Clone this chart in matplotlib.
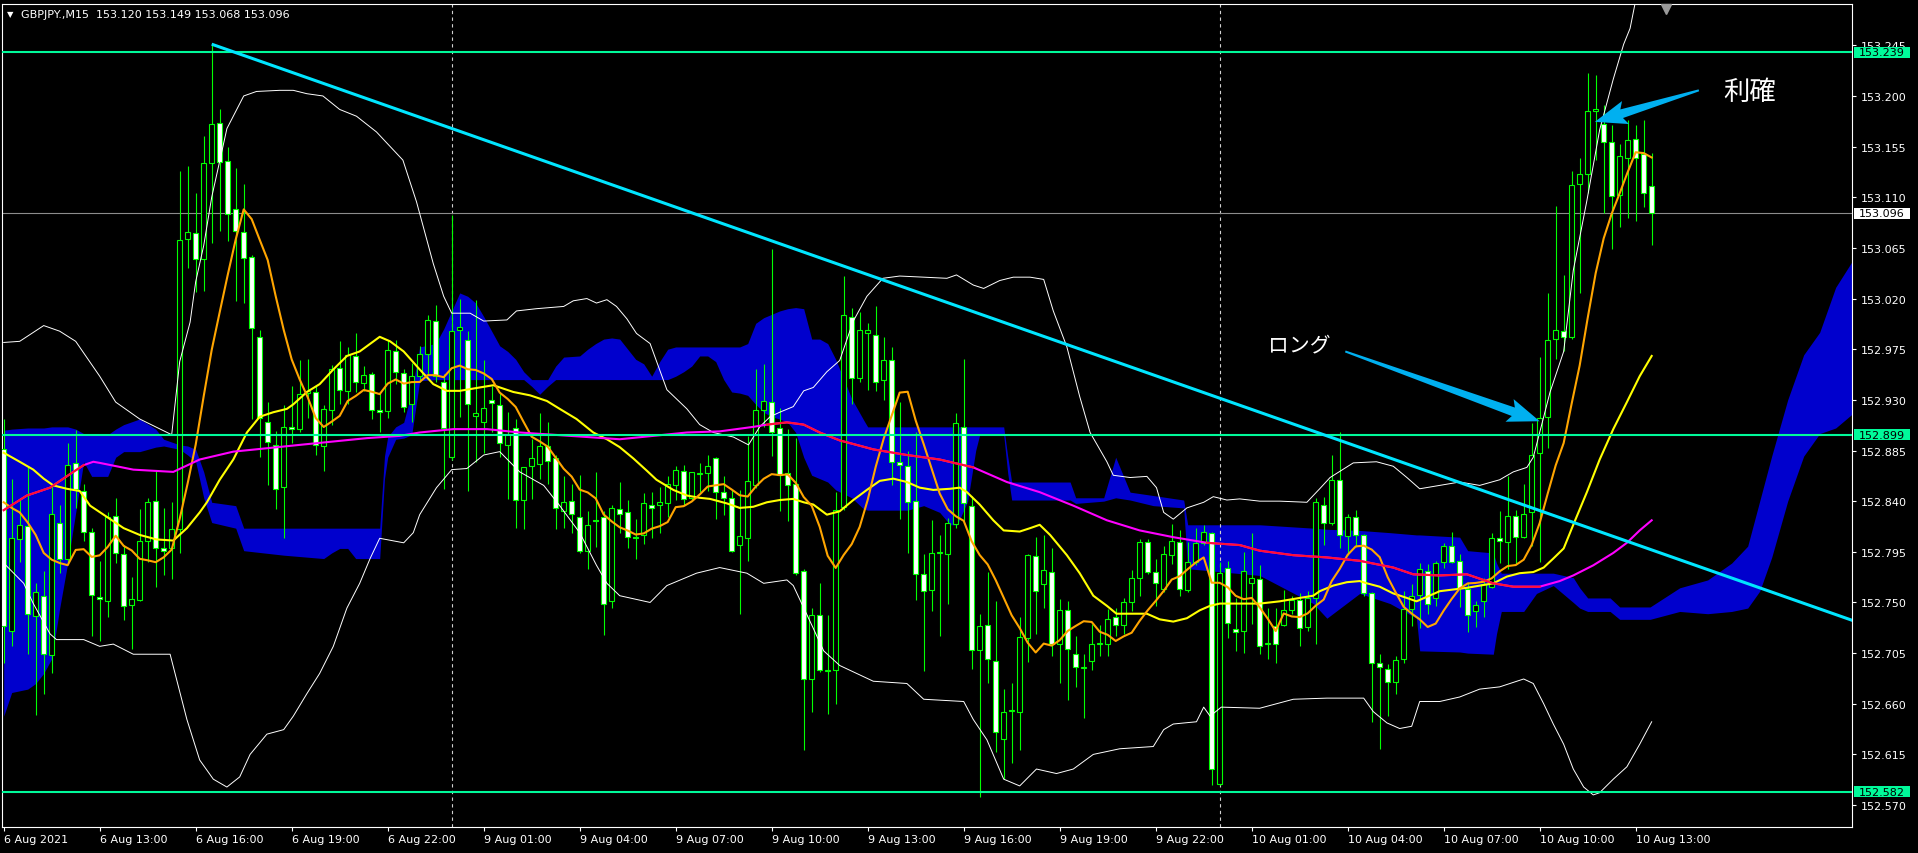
import numpy as np
import pandas as pd
import matplotlib
matplotlib.use('Agg')
import matplotlib.pyplot as plt
from matplotlib.patches import Polygon, Rectangle
from matplotlib.transforms import blended_transform_factory, IdentityTransform

plt.rcParams['font.family'] = ['DejaVu Sans', 'Noto Sans CJK JP']

# ---- GBPJPY M15 candles (bar 0 = 6 Aug 10:00) ----
opens = [152.886, 152.725, 152.806, 152.818, 152.738, 152.756, 152.703, 152.821, 152.789, 152.874,
         152.849, 152.813, 152.755, 152.751, 152.827, 152.793, 152.748, 152.752, 152.805, 152.840,
         152.798, 152.798, 152.815, 153.073, 153.078, 153.055, 153.140, 153.176, 153.142, 153.100,
         153.079, 153.057, 152.986, 152.910, 152.890, 152.853, 152.906, 152.904, 152.936, 152.937,
         152.889, 152.921, 152.958, 152.938, 152.969, 152.945, 152.953, 152.921, 152.920, 152.973,
         152.954, 152.926, 152.951, 152.971, 153.000, 152.946, 152.879, 152.992, 152.983, 152.916,
         152.910, 152.930, 152.925, 152.890, 152.905, 152.841, 152.871, 152.873, 152.889, 152.878,
         152.831, 152.840, 152.826, 152.796, 152.823, 152.826, 152.751, 152.833, 152.830, 152.808,
         152.810, 152.837, 152.837, 152.838, 152.854, 152.867, 152.843, 152.864, 152.865, 152.878,
         152.848, 152.843, 152.801, 152.807, 152.854, 152.921, 152.928, 152.905, 152.865, 152.855,
         152.778, 152.682, 152.739, 152.689, 152.690, 152.835, 153.004, 152.949, 152.989, 152.988,
         152.948, 152.965, 152.875, 152.871, 152.840, 152.775, 152.761, 152.794, 152.793, 152.820,
         152.906, 152.836, 152.708, 152.730, 152.698, 152.629, 152.654, 152.653, 152.718, 152.791,
         152.766, 152.777, 152.713, 152.743, 152.704, 152.692, 152.698, 152.713, 152.713, 152.737,
         152.730, 152.750, 152.772, 152.804, 152.777, 152.762, 152.792, 152.804, 152.761, 152.786,
         152.803, 152.812, 152.589, 152.781, 152.726, 152.725, 152.767, 152.771, 152.713, 152.729,
         152.730, 152.743, 152.752, 152.728, 152.754, 152.837, 152.821, 152.859, 152.809, 152.826,
         152.810, 152.758, 152.696, 152.691, 152.679, 152.700, 152.744, 152.757, 152.778, 152.754,
         152.786, 152.800, 152.787, 152.762, 152.742, 152.751, 152.764, 152.807, 152.804, 152.827,
         152.808, 152.830, 152.883, 152.915, 152.984, 152.991, 152.986, 153.122, 153.131, 153.187,
         153.175, 153.159, 153.112, 153.145, 153.162, 153.148, 153.120]
highs = [152.913, 152.860, 152.843, 152.870, 152.767, 152.778, 152.854, 152.837, 152.892, 152.903,
         152.855, 152.816, 152.787, 152.830, 152.843, 152.801, 152.773, 152.833, 152.843, 152.867,
         152.834, 152.839, 153.133, 153.138, 153.114, 153.164, 153.246, 153.188, 153.155, 153.136,
         153.122, 153.059, 152.992, 152.928, 152.902, 152.925, 152.942, 152.965, 152.966, 152.942,
         152.925, 152.961, 152.982, 152.977, 152.989, 152.960, 152.955, 152.937, 152.983, 152.983,
         152.957, 152.963, 152.978, 153.005, 153.014, 152.953, 153.094, 153.020, 152.991, 153.019,
         152.965, 152.942, 152.937, 152.919, 152.913, 152.870, 152.895, 152.918, 152.910, 152.881,
         152.862, 152.855, 152.863, 152.831, 152.866, 152.831, 152.837, 152.857, 152.841, 152.824,
         152.847, 152.848, 152.853, 152.862, 152.871, 152.872, 152.866, 152.874, 152.881, 152.879,
         152.862, 152.850, 152.850, 152.898, 152.957, 152.962, 153.064, 152.923, 152.904, 152.896,
         152.780, 152.745, 152.767, 152.739, 152.848, 153.040, 153.012, 153.008, 152.998, 153.013,
         152.986, 152.977, 152.928, 152.885, 152.901, 152.793, 152.823, 152.810, 152.825, 152.918,
         152.966, 152.845, 152.740, 152.777, 152.751, 152.673, 152.678, 152.737, 152.793, 152.808,
         152.810, 152.798, 152.753, 152.751, 152.720, 152.704, 152.731, 152.730, 152.744, 152.745,
         152.754, 152.779, 152.806, 152.806, 152.789, 152.800, 152.820, 152.814, 152.804, 152.816,
         152.819, 152.813, 152.786, 152.787, 152.754, 152.795, 152.812, 152.783, 152.745, 152.745,
         152.761, 152.756, 152.758, 152.760, 152.843, 152.844, 152.881, 152.901, 152.829, 152.832,
         152.811, 152.759, 152.704, 152.695, 152.702, 152.760, 152.766, 152.785, 152.784, 152.787,
         152.803, 152.813, 152.793, 152.768, 152.751, 152.772, 152.812, 152.831, 152.862, 152.832,
         152.855, 152.909, 152.968, 153.025, 153.102, 153.041, 153.133, 153.145, 153.220, 153.219,
         153.192, 153.174, 153.157, 153.179, 153.174, 153.179, 153.149]
lows = [152.696, 152.711, 152.786, 152.704, 152.650, 152.669, 152.687, 152.776, 152.785, 152.834,
        152.805, 152.720, 152.716, 152.737, 152.785, 152.734, 152.709, 152.751, 152.786, 152.764,
        152.774, 152.771, 152.794, 153.047, 153.026, 153.027, 153.069, 153.080, 153.071, 153.018,
        153.016, 152.913, 152.879, 152.854, 152.833, 152.807, 152.892, 152.901, 152.914, 152.881,
        152.867, 152.908, 152.926, 152.926, 152.937, 152.938, 152.913, 152.901, 152.914, 152.944,
        152.919, 152.910, 152.946, 152.951, 152.946, 152.851, 152.877, 152.915, 152.849, 152.875,
        152.883, 152.901, 152.879, 152.842, 152.816, 152.815, 152.842, 152.860, 152.855, 152.815,
        152.816, 152.812, 152.794, 152.780, 152.799, 152.721, 152.745, 152.812, 152.798, 152.789,
        152.802, 152.807, 152.812, 152.826, 152.841, 152.837, 152.841, 152.848, 152.849, 152.824,
        152.828, 152.795, 152.740, 152.787, 152.852, 152.906, 152.880, 152.831, 152.822, 152.774,
        152.619, 152.653, 152.688, 152.651, 152.660, 152.832, 152.926, 152.946, 152.939, 152.938,
        152.930, 152.854, 152.824, 152.794, 152.752, 152.689, 152.742, 152.720, 152.749, 152.816,
        152.822, 152.691, 152.577, 152.678, 152.617, 152.593, 152.607, 152.619, 152.697, 152.722,
        152.745, 152.702, 152.678, 152.663, 152.675, 152.647, 152.690, 152.702, 152.702, 152.720,
        152.722, 152.742, 152.756, 152.775, 152.747, 152.759, 152.784, 152.756, 152.759, 152.783,
        152.801, 152.588, 152.588, 152.718, 152.707, 152.705, 152.731, 152.704, 152.700, 152.696,
        152.729, 152.740, 152.711, 152.725, 152.713, 152.801, 152.819, 152.798, 152.792, 152.799,
        152.756, 152.644, 152.620, 152.649, 152.669, 152.696, 152.729, 152.727, 152.740, 152.747,
        152.781, 152.785, 152.746, 152.724, 152.728, 152.737, 152.763, 152.785, 152.780, 152.784,
        152.807, 152.800, 152.786, 152.887, 152.966, 152.973, 152.984, 153.025, 153.114, 153.143,
        153.096, 153.064, 153.084, 153.092, 153.089, 153.101, 153.068]
closes = [152.729, 152.807, 152.819, 152.740, 152.759, 152.704, 152.829, 152.789, 152.872, 152.851,
          152.813, 152.757, 152.753, 152.826, 152.794, 152.747, 152.753, 152.805, 152.839, 152.798,
          152.796, 152.815, 153.072, 153.079, 153.055, 153.140, 153.175, 153.141, 153.095, 153.080,
          153.056, 152.994, 152.914, 152.893, 152.851, 152.906, 152.904, 152.935, 152.938, 152.890,
          152.922, 152.957, 152.939, 152.970, 152.946, 152.952, 152.921, 152.919, 152.974, 152.955,
          152.924, 152.951, 152.971, 153.001, 152.951, 152.905, 152.991, 152.995, 152.926, 152.918,
          152.923, 152.927, 152.892, 152.900, 152.841, 152.870, 152.878, 152.889, 152.876, 152.834,
          152.839, 152.829, 152.796, 152.819, 152.822, 152.749, 152.834, 152.829, 152.808, 152.807,
          152.838, 152.834, 152.839, 152.855, 152.868, 152.842, 152.866, 152.864, 152.871, 152.848,
          152.843, 152.796, 152.809, 152.858, 152.921, 152.929, 152.901, 152.863, 152.854, 152.776,
          152.682, 152.739, 152.690, 152.689, 152.832, 153.005, 152.949, 152.992, 152.992, 152.946,
          152.965, 152.875, 152.872, 152.839, 152.775, 152.760, 152.794, 152.795, 152.821, 152.909,
          152.838, 152.708, 152.729, 152.700, 152.635, 152.653, 152.654, 152.719, 152.792, 152.760,
          152.779, 152.713, 152.743, 152.709, 152.693, 152.692, 152.713, 152.714, 152.735, 152.730,
          152.750, 152.772, 152.804, 152.777, 152.767, 152.793, 152.805, 152.762, 152.786, 152.803,
          152.813, 152.602, 152.776, 152.732, 152.724, 152.778, 152.772, 152.711, 152.713, 152.713,
          152.743, 152.752, 152.727, 152.754, 152.839, 152.821, 152.859, 152.810, 152.826, 152.810,
          152.758, 152.696, 152.693, 152.679, 152.699, 152.744, 152.756, 152.780, 152.749, 152.785,
          152.800, 152.786, 152.763, 152.739, 152.748, 152.766, 152.807, 152.805, 152.827, 152.808,
          152.829, 152.881, 152.914, 152.983, 152.992, 152.986, 153.121, 153.131, 153.187, 153.188,
          153.159, 153.111, 153.147, 153.161, 153.145, 153.114, 153.096]

# orange MA: SMA(9) of close; first bars (history before the window)
orange_lead = [152.839, 152.834, 152.830, 152.821, 152.810, 152.794, 152.788, 152.785]

# Bollinger bands and middle line (bar index, price)
bb_up_idx = [0, 2, 5, 7, 9, 12, 14, 17, 19, 21, 22, 23.3, 24, 25, 26, 27.9, 30, 31.6, 34.5, 36.2,
             37.9, 39.9, 42, 44.1, 46.6, 49.9, 51.6, 53.7, 55, 56, 58.3, 60, 62.9, 64.1, 66.6, 70,
             71.2, 72.9, 74.1, 75.4, 76.6, 77.9, 79.1, 80.8, 82.9, 85.4, 87, 88.7, 91.2, 93.1, 94.5,
             95.8, 97, 98.7, 100, 101.2, 102.9, 104.5, 106.2, 107.9, 109.9, 112, 115, 117.9, 119.1,
             121.2, 122.5, 124.5, 126.2, 128.3, 130, 131.2, 132.9, 134.5, 135.8, 137.9, 138.7, 140.8,
             142.9, 144.1, 145, 146.2, 147.9, 150, 151.2, 152.9, 154.5, 157, 159.5, 162.9, 164.5,
             165.8, 168.7, 171.6, 173.7, 175.4, 177, 179.5, 182, 184.5, 187, 188.7, 190.4, 191.2,
             192, 193.3, 195, 196.2, 197.9, 199.5, 201.2, 202.5, 203.3, 204, 205, 206]
bb_up = [152.981, 152.982, 152.996, 152.991, 152.982, 152.951, 152.928, 152.913, 152.906, 152.899,
         152.964, 152.999, 153.035, 153.067, 153.110, 153.171, 153.200, 153.204, 153.205, 153.205,
         153.202, 153.200, 153.188, 153.182, 153.168, 153.143, 153.106, 153.051, 153.022, 153.007,
         153.007, 153.000, 153.001, 153.009, 153.011, 153.013, 153.018, 153.020, 153.016, 153.019,
         153.013, 153.002, 152.989, 152.980, 152.939, 152.922, 152.908, 152.901, 152.897, 152.890,
         152.906, 152.915, 152.919, 152.924, 152.938, 152.941, 152.955, 152.965, 153.000, 153.022,
         153.038, 153.040, 153.039, 153.038, 153.041, 153.032, 153.029, 153.036, 153.039, 153.039,
         153.037, 153.009, 152.977, 152.933, 152.901, 152.875, 152.863, 152.861, 152.862, 152.852,
         152.830, 152.824, 152.834, 152.839, 152.844, 152.841, 152.842, 152.840, 152.840, 152.839,
         152.851, 152.861, 152.874, 152.875, 152.871, 152.861, 152.851, 152.854, 152.857, 152.854,
         152.859, 152.866, 152.870, 152.879, 152.901, 152.937, 152.973, 153.045, 153.107, 153.170,
         153.215, 153.246, 153.260, 153.285, 153.310, 153.335]
bb_lo_idx = [0, 2.5, 3.7, 5.8, 6.6, 10, 12, 13.7, 16.2, 20.8, 22.9, 24.5, 26.2, 27.9, 29.5, 30.8,
             32.9, 35, 36.2, 37.9, 39.5, 41.2, 42.9, 44.5, 45.8, 47, 50, 51.2, 52, 54.1, 56, 57.9,
             60, 62, 64.5, 67.5, 69.5, 72, 74.1, 75.4, 77, 80.8, 82.9, 86.6, 89.5, 92.9, 95, 97.9,
             98.7, 101.2, 102.5, 104.5, 106.6, 108.7, 112.9, 115, 120, 121.2, 122.9, 125, 127,
             129.1, 131.6, 133.7, 136.2, 139.5, 143.7, 145, 146.2, 149.1, 150, 150.8, 152.2, 157,
             161.2, 165.4, 170, 171.2, 172.9, 174.5, 176, 177, 179.5, 182, 184.5, 187, 190, 191.2,
             192.5, 193.7, 195, 196.2, 197.5, 198.7, 199.5, 201.2, 202.9, 204.5, 206]
bb_lo = [152.785, 152.767, 152.749, 152.722, 152.717, 152.717, 152.711, 152.713, 152.704, 152.704,
         152.646, 152.610, 152.593, 152.586, 152.595, 152.615, 152.633, 152.637, 152.649, 152.669,
         152.687, 152.711, 152.745, 152.767, 152.789, 152.807, 152.803, 152.812, 152.828, 152.852,
         152.868, 152.869, 152.881, 152.884, 152.866, 152.854, 152.836, 152.812, 152.783, 152.767,
         152.756, 152.750, 152.765, 152.776, 152.781, 152.776, 152.767, 152.770, 152.765, 152.727,
         152.707, 152.694, 152.687, 152.680, 152.678, 152.664, 152.662, 152.646, 152.628, 152.593,
         152.587, 152.602, 152.598, 152.602, 152.615, 152.620, 152.622, 152.637, 152.642, 152.644,
         152.657, 152.649, 152.657, 152.656, 152.664, 152.665, 152.665, 152.653, 152.643, 152.638,
         152.640, 152.662, 152.662, 152.666, 152.673, 152.675, 152.682, 152.678, 152.660, 152.642,
         152.624, 152.602, 152.586, 152.579, 152.581, 152.593, 152.604, 152.624, 152.644]
mid_idx = [0, 2, 3.7, 5, 6.2, 7.9, 9.5, 10.8, 12.9, 15, 17, 19.1, 21.2, 22.9, 24.5, 25.4, 27, 28.7,
           30.4, 32, 33.7, 35.4, 36.2, 37.9, 39.5, 41.2, 42.9, 44.5, 47, 48.3, 50, 52, 53.7, 55.4,
           57, 59.5, 61.2, 63.7, 65.8, 67.9, 69.5, 71.6, 73.7, 75.4, 77, 78.7, 80.4, 81.6, 83.7,
           85.4, 87, 88.3, 90.4, 92, 93.7, 95.4, 97, 98.7, 100, 101.2, 102.9, 104.5, 106.2, 107.9,
           109.5, 111.2, 112.9, 114.5, 116.2, 118.3, 119.5, 120.4, 122, 123.7, 125, 127, 128.3,
           129.5, 130.8, 132.9, 134.5, 136.2, 137.9, 139.1, 142.9, 144.5, 146.2, 147.9, 149.5,
           150.8, 152, 157, 159.5, 162, 163.7, 164.5, 166.2, 167.9, 169.5, 170.4, 172, 173.7,
           175.4, 176.6, 177.9, 179.5, 182.9, 186.2, 187.9, 189.5, 191.2, 192.5, 193.7, 195, 196.2,
           197.9, 199.5, 201.2, 202.9, 204.5, 206]
mid = [152.883, 152.875, 152.868, 152.860, 152.854, 152.851, 152.849, 152.836, 152.826, 152.816,
       152.810, 152.806, 152.805, 152.816, 152.830, 152.839, 152.859, 152.877, 152.901, 152.915,
       152.919, 152.922, 152.926, 152.937, 152.944, 152.957, 152.969, 152.973, 152.986, 152.982,
       152.973, 152.957, 152.944, 152.938, 152.938, 152.941, 152.943, 152.937, 152.934, 152.929,
       152.922, 152.913, 152.901, 152.895, 152.888, 152.878, 152.867, 152.859, 152.850, 152.845,
       152.843, 152.842, 152.838, 152.834, 152.835, 152.839, 152.841, 152.842, 152.839, 152.837,
       152.828, 152.831, 152.841, 152.850, 152.858, 152.860, 152.857, 152.852, 152.850, 152.851,
       152.852, 152.848, 152.837, 152.823, 152.814, 152.813, 152.816, 152.819, 152.810, 152.792,
       152.776, 152.756, 152.747, 152.740, 152.740, 152.735, 152.733, 152.736, 152.743, 152.747,
       152.749, 152.749, 152.751, 152.754, 152.756, 152.760, 152.765, 152.768, 152.769, 152.767,
       152.764, 152.758, 152.754, 152.751, 152.755, 152.760, 152.763, 152.767, 152.773, 152.776,
       152.777, 152.781, 152.789, 152.798, 152.819, 152.848, 152.877, 152.904, 152.928, 152.951,
       152.969]

# long moving average (magenta, red on some stretches)
ma_long_idx = [0, 2.9, 5.8, 8.7, 10, 11.2, 12, 16.2, 21.2, 24.5, 28.7, 32.9, 37, 41.2, 45.4, 49.5,
               52, 56.2, 60.4, 64.5, 68.7, 72.9, 77, 81.2, 85.4, 89.5, 93.7, 95.4, 97.9, 100, 102,
               104.5, 108.7, 112.9, 117, 121.2, 125.4, 129.5, 133.7, 137.9, 142, 146.2, 150.4,
               154.5, 157, 161.2, 165.4, 169.5, 173.7, 176.2, 179.5, 182.9, 186.2, 188.7, 192,
               194.5, 196.2, 198.7, 201.2, 202.9, 204.5, 206]
ma_long = [152.832, 152.845, 152.852, 152.866, 152.872, 152.875, 152.874, 152.868, 152.866, 152.877,
           152.884, 152.887, 152.890, 152.893, 152.896, 152.898, 152.901, 152.904, 152.904, 152.901,
           152.899, 152.897, 152.895, 152.898, 152.901, 152.902, 152.906, 152.908, 152.910, 152.908,
           152.901, 152.894, 152.886, 152.881, 152.877, 152.870, 152.857, 152.848, 152.836, 152.823,
           152.814, 152.808, 152.803, 152.801, 152.796, 152.792, 152.790, 152.787, 152.781, 152.775,
           152.774, 152.775, 152.767, 152.764, 152.764, 152.769, 152.774, 152.783, 152.794, 152.803,
           152.814, 152.823]
red_spans = [(0, 10), (95, 122), (150, 192)]

# Ichimoku cloud (span edges, shifted 26 bars ahead)
cloud_idx = [0, 1, 3, 4, 5, 6, 7, 8, 9, 10, 11, 13, 14, 15, 17, 19, 20, 22, 23, 24, 25, 26, 29,
             30, 35, 40, 41, 42, 43, 44, 47, 47.6, 48, 49, 50, 51, 52, 54, 55, 56, 57, 58, 59, 60,
             61, 62, 63, 64, 65, 66, 67, 68, 69, 70, 72, 73, 74, 75, 76, 77, 78, 79, 80, 81, 82, 83,
             84, 85, 86, 87, 88, 89, 90, 91, 92, 93, 94, 95, 96, 97, 98, 99, 100, 101, 102, 103,
             104, 106, 107.5, 108, 113, 115, 117, 118.3, 119.2, 120.5, 121.5, 122, 125, 125.5, 126,
             133.3, 134, 137.5, 139, 140.8, 143.7, 147.5, 148, 157, 163.7, 165.4, 169.5, 173.3,
             176.6, 177, 182, 183, 186.2, 186.6, 187.2, 190, 191.6, 193.7, 196.2, 197, 198, 200.8,
             202, 205.8, 209.5, 213, 216, 218, 219.5, 221, 223, 225, 227, 229, 231.5]
cloud_top = [152.903, 152.904, 152.905, 152.905, 152.905, 152.906, 152.906, 152.906, 152.904, 152.900,
             152.899, 152.899, 152.904, 152.908, 152.913, 152.904, 152.895, 152.890, 152.889, 152.886,
             152.866, 152.839, 152.836, 152.816, 152.816, 152.816, 152.816, 152.816, 152.816, 152.816,
             152.816, 152.880, 152.897, 152.906, 152.910, 152.937, 152.977, 152.980, 152.993, 153.009,
             153.025, 153.022, 153.016, 153.004, 152.991, 152.978, 152.973, 152.966, 152.955, 152.948,
             152.948, 152.948, 152.960, 152.968, 152.969, 152.975, 152.980, 152.984, 152.985, 152.984,
             152.975, 152.966, 152.962, 152.951, 152.964, 152.975, 152.977, 152.977, 152.977, 152.977,
             152.977, 152.977, 152.977, 152.977, 152.977, 152.980, 152.998, 153.003, 153.006, 153.009,
             153.011, 153.012, 153.011, 152.984, 152.984, 152.980, 152.966, 152.931, 152.912, 152.906,
             152.906, 152.906, 152.906, 152.906, 152.906, 152.906, 152.906, 152.906, 152.906, 152.880,
             152.857, 152.857, 152.843, 152.843, 152.879, 152.848, 152.845, 152.841, 152.819, 152.819,
             152.816, 152.815, 152.814, 152.812, 152.810, 152.810, 152.808, 152.796, 152.794, 152.785,
             152.776, 152.776, 152.776, 152.776, 152.772, 152.763, 152.754, 152.754, 152.746, 152.746,
             152.763, 152.770, 152.785, 152.800, 152.840, 152.880, 152.930, 152.970, 152.990, 153.030,
             153.058]
cloud_bot = [152.649, 152.670, 152.673, 152.678, 152.687, 152.700, 152.745, 152.785, 152.830, 152.875,
             152.862, 152.862, 152.879, 152.884, 152.884, 152.888, 152.889, 152.886, 152.881, 152.875,
             152.843, 152.821, 152.816, 152.796, 152.792, 152.789, 152.794, 152.798, 152.798, 152.789,
             152.789, 152.860, 152.879, 152.895, 152.896, 152.899, 152.947, 152.948, 152.948, 152.948,
             152.948, 152.948, 152.948, 152.948, 152.948, 152.948, 152.948, 152.948, 152.948, 152.942,
             152.935, 152.942, 152.948, 152.948, 152.948, 152.948, 152.948, 152.948, 152.948, 152.948,
             152.948, 152.948, 152.948, 152.948, 152.948, 152.948, 152.951, 152.955, 152.960, 152.969,
             152.969, 152.964, 152.948, 152.937, 152.936, 152.934, 152.926, 152.919, 152.915, 152.913,
             152.910, 152.901, 152.879, 152.863, 152.860, 152.857, 152.850, 152.843, 152.833, 152.832,
             152.832, 152.836, 152.830, 152.819, 152.819, 152.840, 152.885, 152.899, 152.899, 152.865,
             152.841, 152.841, 152.838, 152.840, 152.843, 152.841, 152.836, 152.834, 152.780, 152.774,
             152.749, 152.736, 152.758, 152.749, 152.736, 152.707, 152.706, 152.705, 152.704, 152.722,
             152.742, 152.742, 152.758, 152.765, 152.750, 152.745, 152.742, 152.742, 152.735, 152.735,
             152.742, 152.740, 152.742, 152.745, 152.760, 152.790, 152.840, 152.880, 152.900, 152.905,
             152.920]

# trend line anchors (bar, price) and horizontal levels
trend_x = [26, 157]
trend_y = [153.246, 152.919]
levels = [153.239, 152.899, 152.582]
last_price = 153.096

time_labels = ['6 Aug 2021', '6 Aug 13:00', '6 Aug 16:00', '6 Aug 19:00', '6 Aug 22:00',
               '9 Aug 01:00', '9 Aug 04:00', '9 Aug 07:00', '9 Aug 10:00', '9 Aug 13:00',
               '9 Aug 16:00', '9 Aug 19:00', '9 Aug 22:00', '10 Aug 01:00', '10 Aug 04:00',
               '10 Aug 07:00', '10 Aug 10:00', '10 Aug 13:00']
day_breaks = [56, 152]
price_ticks = [152.570 + 0.045 * k for k in range(16)]

# arrows: (tail bar, tail price) -> (tip bar, tip price)
long_arrow = ((167.7, 152.973), (192, 152.911))
tp_arrow = ((211.9, 153.205), (198.9, 153.177))

# ---------------- drawing ----------------
W, H = 1918, 854
fig = plt.figure(figsize=(W / 100, H / 100), dpi=100, facecolor='black')
ax = fig.add_axes([2 / W, 26 / H, 1850 / W, 823 / H])
ax.set_facecolor('black')
ax.set_xlim(-0.2125, 231.04)
ax.set_ylim(152.5505, 153.2817)

o = np.array(opens); h = np.array(highs); l = np.array(lows); c = np.array(closes)
x = np.arange(len(o))

# cloud
ax.fill_between(cloud_idx, cloud_bot, cloud_top, color='#0000CD', lw=0, zorder=1)

# day separators, last price line
for d in day_breaks:
    ax.axvline(d, color='#d0d0d0', lw=0.8, ls=(0, (3, 3)), zorder=1.5)
ax.axhline(last_price, color='#8c8c8c', lw=0.8, zorder=1.6)

# candles
ax.vlines(x, l, h, color='#00FF00', lw=0.8, zorder=3)
up = c >= o
body_lo = np.minimum(o, c)
body_h = np.maximum(np.abs(c - o), 0.0007)
ax.bar(x, body_h, bottom=body_lo, width=0.58, color=np.where(up, 'black', 'white'),
       edgecolor='#00FF00', linewidth=0.8, zorder=4)

# indicator lines
ax.plot(bb_up_idx, bb_up, color='white', lw=0.7, zorder=5)
ax.plot(bb_lo_idx, bb_lo, color='white', lw=0.7, zorder=5)
ax.plot(mid_idx, mid, color='#FFFF00', lw=1.5, zorder=5)
sma9 = pd.Series(c).rolling(9).mean().to_numpy()
sma9[:len(orange_lead)] = orange_lead
ax.plot(x, sma9, color='#FFA500', lw=1.5, zorder=5)
mi = np.array(ma_long_idx); mv = np.array(ma_long)
ax.plot(mi, mv, color='#FF00FF', lw=1.5, zorder=5)
for a, b in red_spans:
    m = (mi >= a) & (mi <= b)
    ax.plot(mi[m], mv[m], color='#FF1030', lw=1.5, zorder=5.1)

# objects
for v in levels:
    ax.axhline(v, color='#00FA9A', lw=1.5, zorder=6)
slope = (trend_y[1] - trend_y[0]) / (trend_x[1] - trend_x[0])
tx = np.array([trend_x[0], 232])
ax.plot(tx, trend_y[0] + slope * (tx - trend_x[0]), color='#00E5FF', lw=2.2, zorder=6,
        solid_capstyle='butt')

# axes styling
for s in ax.spines.values():
    s.set_color('white'); s.set_linewidth(0.8)
ax.yaxis.tick_right()
ax.set_yticks(price_ticks)
ax.set_yticklabels([f'{v:.3f}' for v in price_ticks])
ax.set_xticks(np.arange(0, 12 * len(time_labels), 12))
ax.set_xticklabels(time_labels)
for lbl in ax.get_xticklabels():
    lbl.set_ha('left')
ax.tick_params(axis='y', colors='white', length=3, width=0.8, pad=3, labelsize=8)
ax.tick_params(axis='x', colors='white', length=3, width=0.8, pad=2, labelsize=8)

# price boxes on the right scale
bt = blended_transform_factory(ax.transAxes, ax.transData)
box_h = 11 * (153.2817 - 152.5505) / 823
for v, fc in [(levels[0], '#00FA9A'), (levels[1], '#00FA9A'), (levels[2], '#00FA9A'),
              (last_price, 'white')]:
    ax.add_patch(Rectangle((1.0011, v - box_h / 2), 56 / 1850, box_h, transform=bt,
                           fc=fc, ec='none', clip_on=False, zorder=20))
    ax.text(1.0011 + 28 / 1850, v, f'{v:.3f}', transform=bt, ha='center', va='center',
            fontsize=8, color='black', clip_on=False, zorder=21)

# header
fig.text(7 / W, 1 - 15 / H, '▼', color='white', fontsize=6, va='center')
fig.text(21 / W, 1 - 15 / H, 'GBPJPY.,M15  153.120 153.149 153.068 153.096', color='white',
         fontsize=8, va='center')
ax.plot([207.8], [153.277], marker='v', color='#9a9a9a', ms=7, zorder=7, clip_on=False)

# annotations
ax.text(158.0, 152.979, 'ロング', color='white', fontsize=15, va='center', ha='left',
        family=['Noto Sans CJK JP', 'DejaVu Sans'], zorder=8)
ax.text(214.9, 153.2036, '利確', color='white', fontsize=19, va='center', ha='left',
        family=['Noto Sans CJK JP', 'DejaVu Sans'], zorder=8)


def arrow_poly(tail, tip, head_len=28, head_w=12, shaft_w=4.5, tail_w=1.0):
    t = ax.transData.transform(tail)
    p = ax.transData.transform(tip)
    u = (p - t) / np.hypot(*(p - t))
    n = np.array([-u[1], u[0]])
    b = p - u * head_len
    pts = [t + n * tail_w, b + n * shaft_w, b - u * 4 + n * head_w, p,
           b - u * 4 - n * head_w, b - n * shaft_w, t - n * tail_w]
    fig.add_artist(Polygon(pts, closed=True, transform=IdentityTransform(),
                           fc='#00B0F0', ec='none', zorder=30))


arrow_poly(*long_arrow)
arrow_poly(*tp_arrow)

fig.savefig('out.png', dpi=100, facecolor='black')
